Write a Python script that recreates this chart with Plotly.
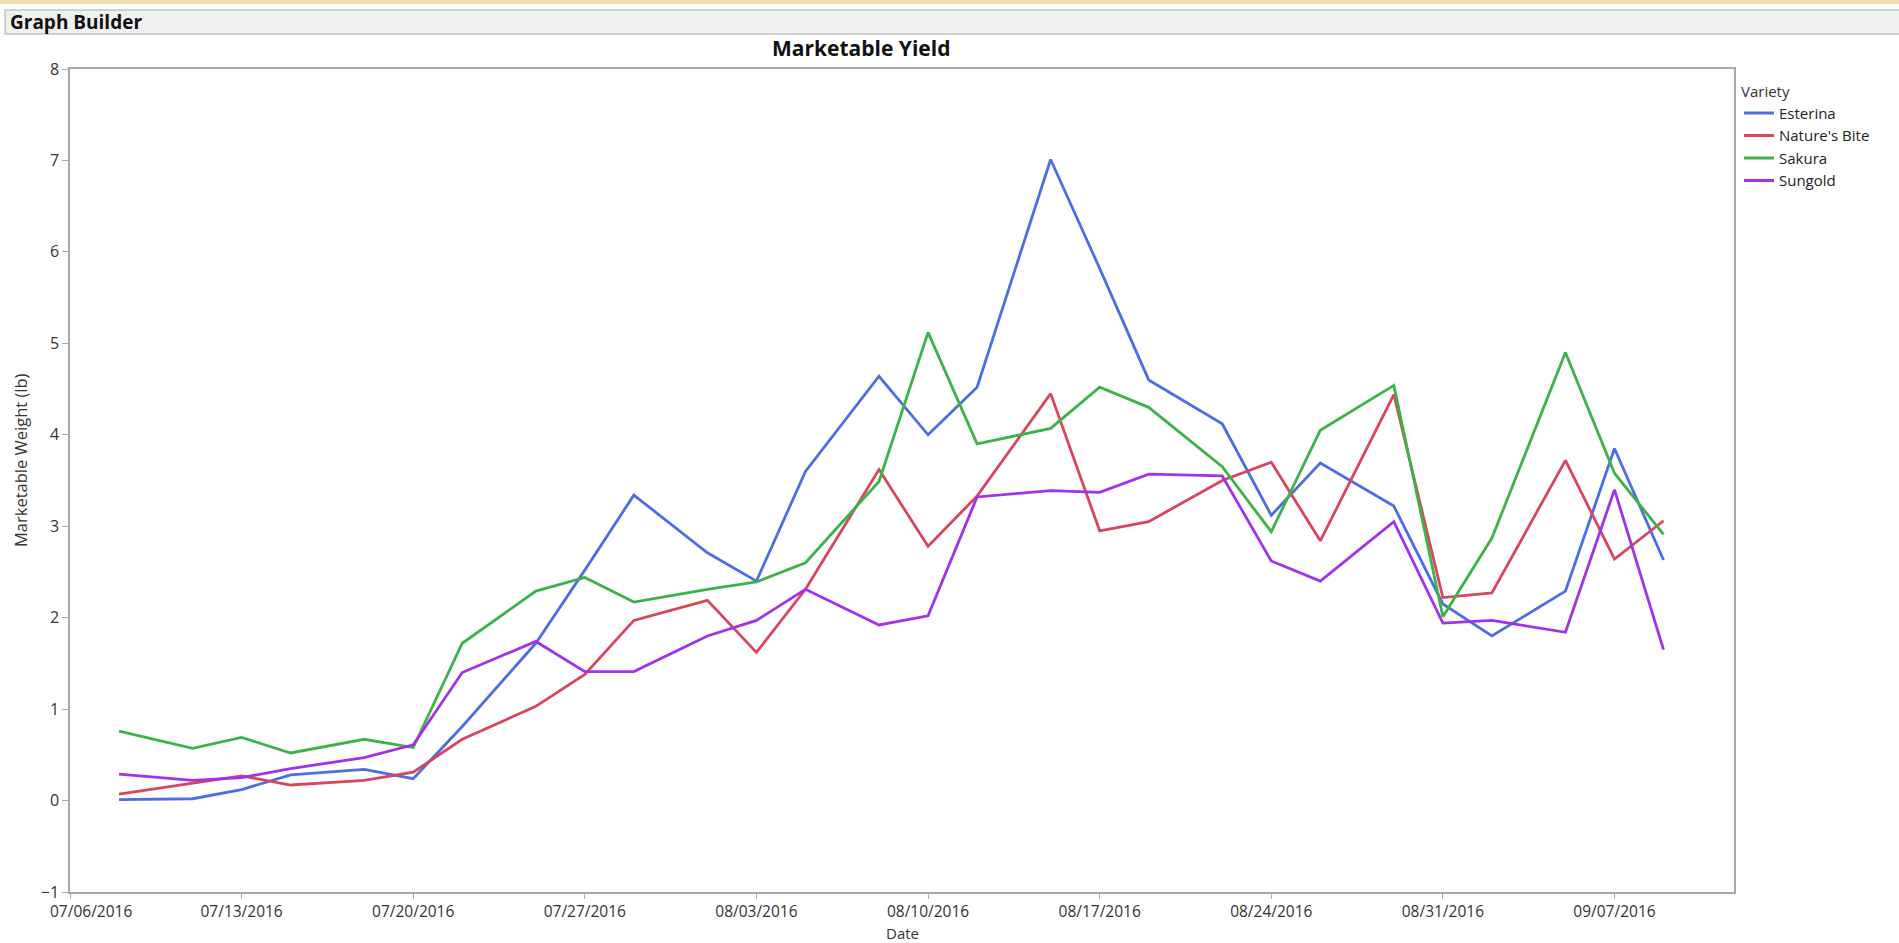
import plotly.graph_objects as go

# harvest dates (Mon / Wed / Fri picks)
dates = [
    "2016-07-08", "2016-07-11", "2016-07-13", "2016-07-15", "2016-07-18",
    "2016-07-20", "2016-07-22", "2016-07-25", "2016-07-27", "2016-07-29",
    "2016-08-01", "2016-08-03", "2016-08-05", "2016-08-08", "2016-08-10",
    "2016-08-12", "2016-08-15", "2016-08-17", "2016-08-19", "2016-08-22",
    "2016-08-24", "2016-08-26", "2016-08-29", "2016-08-31", "2016-09-02",
    "2016-09-05", "2016-09-07", "2016-09-09",
]

esterina = [
    0.01, 0.02, 0.12, 0.28, 0.34, 0.24, 0.81, 1.72, 2.52, 3.34,
    2.71, 2.40, 3.60, 4.64, 4.00, 4.52, 7.01, 5.82, 4.60, 4.12,
    3.12, 3.69, 3.22, 2.15, 1.80, 2.29, 3.85, 2.63,
]
natures_bite = [
    0.07, 0.19, 0.27, 0.17, 0.22, 0.31, 0.67, 1.03, 1.38, 1.97,
    2.19, 1.62, 2.31, 3.62, 2.78, 3.33, 4.45, 2.95, 3.05, 3.50,
    3.70, 2.84, 4.44, 2.22, 2.27, 3.72, 2.64, 3.06,
]
sakura = [
    0.76, 0.57, 0.69, 0.52, 0.67, 0.58, 1.72, 2.29, 2.44, 2.17,
    2.31, 2.39, 2.60, 3.49, 5.12, 3.90, 4.07, 4.52, 4.30, 3.65,
    2.94, 4.05, 4.54, 2.01, 2.87, 4.90, 3.58, 2.91,
]
sungold = [
    0.29, 0.22, 0.25, 0.35, 0.47, 0.61, 1.40, 1.74, 1.41, 1.41,
    1.80, 1.97, 2.31, 1.92, 2.02, 3.32, 3.39, 3.37, 3.57, 3.55,
    2.62, 2.40, 3.05, 1.94, 1.97, 1.84, 3.40, 1.65,
]

varieties = ["Esterina", "Nature's Bite", "Sakura", "Sungold"]
series = [esterina, natures_bite, sakura, sungold]
colors = ["#4B6FE2", "#D9455F", "#3DB249", "#A331EA"]

tick_dates = [
    "2016-07-06", "2016-07-13", "2016-07-20", "2016-07-27", "2016-08-03",
    "2016-08-10", "2016-08-17", "2016-08-24", "2016-08-31", "2016-09-07",
]
tick_labels = [
    "07/06/2016", "07/13/2016", "07/20/2016", "07/27/2016", "08/03/2016",
    "08/10/2016", "08/17/2016", "08/24/2016", "08/31/2016", "09/07/2016",
]

FONT = "Open Sans, Noto Sans, sans-serif"
AXIS_GREY = "#A8A8A8"
TEXT = "#333333"

fig = go.Figure()
for name, values, color in zip(varieties, series, colors):
    fig.add_trace(
        go.Scatter(
            x=dates,
            y=values,
            name=name,
            mode="lines",
            line=dict(color=color, width=2.8),
        )
    )

fig.update_layout(
    width=1899,
    height=943,
    margin=dict(l=70, r=165, t=69, b=51),
    paper_bgcolor="white",
    plot_bgcolor="white",
    font=dict(family=FONT, size=16, color=TEXT),
    showlegend=True,
    legend=dict(
        title=dict(text="Variety", font=dict(size=15, color=TEXT)),
        x=1.003,
        y=0.99,
        xanchor="left",
        yanchor="top",
        font=dict(size=15, color="#222222"),
        itemwidth=30,
        tracegroupgap=0,
        bgcolor="rgba(0,0,0,0)",
    ),
)

fig.update_xaxes(
    type="date",
    range=["2016-07-06", "2016-09-11 21:00"],
    tickvals=tick_dates,
    # first label is drawn as an annotation, shifted right like JMP does
    ticktext=[""] + tick_labels[1:],
    ticks="outside",
    ticklen=5,
    tickcolor=AXIS_GREY,
    tickfont=dict(size=15.5, color=TEXT),
    showline=True,
    linecolor=AXIS_GREY,
    linewidth=1.5,
    mirror=True,
    showgrid=False,
    zeroline=False,
)
fig.update_yaxes(
    range=[-1, 8],
    dtick=1,
    ticks="outside",
    ticklen=6,
    tickcolor=AXIS_GREY,
    tickfont=dict(size=16, color=TEXT),
    showline=True,
    linecolor=AXIS_GREY,
    linewidth=1.5,
    mirror=True,
    showgrid=False,
    zeroline=False,
)

# window chrome: tan strip and the "Graph Builder" outline bar
fig.add_shape(
    type="rect", xref="paper", yref="paper",
    x0=-0.05, x1=1.1, y0=1.0790, y1=1.09,
    fillcolor="#F0DDB0", line=dict(width=0), layer="below",
)
fig.add_shape(
    type="rect", xref="paper", yref="paper",
    x0=-0.039, x1=1.1, y0=1.0425, y1=1.0717,
    fillcolor="#F0F0F0", line=dict(color="#C4C4C4", width=1.5), layer="below",
)

fig.add_annotation(
    text="<b>Graph Builder</b>", xref="paper", yref="paper",
    x=-0.037, y=1.0571, xanchor="left", yanchor="middle",
    showarrow=False, font=dict(size=19, color="#111111"),
)
fig.add_annotation(
    text="<b>Marketable Yield</b>", xref="paper", yref="paper",
    x=0.4755, y=1.026, xanchor="center", yanchor="middle",
    showarrow=False, font=dict(size=21, color="#111111"),
)
fig.add_annotation(
    text=tick_labels[0], xref="paper", yref="paper",
    x=(91 - 70) / 1664, y=-0.0225, xanchor="center", yanchor="middle",
    showarrow=False, font=dict(size=15.5, color=TEXT),
)
fig.add_annotation(
    text="Date", xref="paper", yref="paper",
    x=0.5, y=-0.0495, xanchor="center", yanchor="middle",
    showarrow=False, font=dict(size=15, color=TEXT),
)
fig.add_annotation(
    text="Marketable Weight (lb)", xref="paper", yref="paper",
    x=-0.0294, y=0.525, xanchor="center", yanchor="middle",
    textangle=-90, showarrow=False, font=dict(size=16.5, color=TEXT),
)

# drop the default body margin so the figure sits at the window corner
fig.write_html(
    "out.html",
    config={"displayModeBar": False},
    post_script="document.body.style.margin = '0';",
)
